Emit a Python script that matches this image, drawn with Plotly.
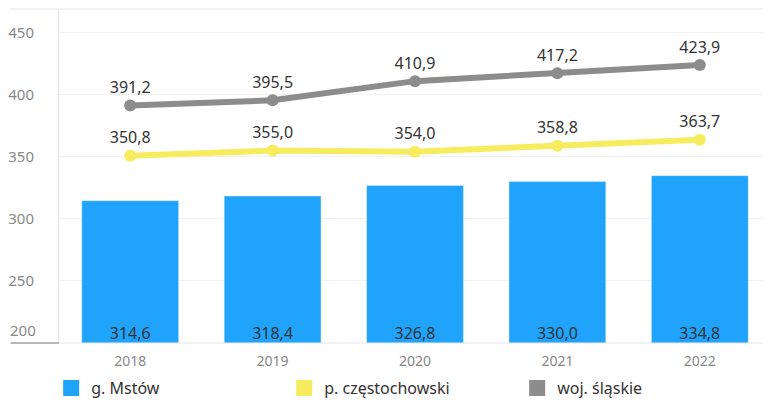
import plotly.graph_objects as go

lata = ['2018', '2019', '2020', '2021', '2022']
mstow = [314.6, 318.4, 326.8, 330.0, 334.8]
powiat = [350.8, 355.0, 354.0, 358.8, 363.7]
wojewodztwo = [391.2, 395.5, 410.9, 417.2, 423.9]
ticki_y = [200, 250, 300, 350, 400, 450]

kolory = {'g. Mstów': '#1FA3FB', 'p. częstochowski': '#F6EC5E', 'woj. śląskie': '#8C8C8C'}
czcionka = 'Noto Sans'
zakres_y = [200, 469]

fig = go.Figure()

fig.add_trace(go.Bar(
	x=lata, y=mstow, marker_color=kolory['g. Mstów'], showlegend=False, hoverinfo='skip'
))

# bar labels sit at the bottom of the visible axis range
fig.add_trace(go.Scatter(
	x=lata, y=[zakres_y[0]] * len(lata), mode='text', showlegend=False,
	text=[f'{v:.1f}'.replace('.', ',') for v in mstow], textposition='top center',
	textfont=dict(size=16, color='#333333', family=czcionka), hoverinfo='skip', cliponaxis=False
))

for nazwa, wartosci in [('p. częstochowski', powiat), ('woj. śląskie', wojewodztwo)]:
	fig.add_trace(go.Scatter(
		x=lata, y=wartosci, mode='lines+markers+text', showlegend=False,
		line=dict(color=kolory[nazwa], width=6), marker=dict(size=12, color=kolory[nazwa]),
		texttemplate='%{y:.1f}', textposition='top center',
		textfont=dict(size=16, color='#333333', family=czcionka), hoverinfo='skip'
	))

# legend entries (square symbols)
for nazwa in kolory:
	fig.add_trace(go.Scatter(
		x=[None], y=[None], mode='markers', name=nazwa,
		marker=dict(symbol='square', size=18, color=kolory[nazwa])
	))

# top border line and bottom axis line extending left
fig.add_shape(type='line', xref='paper', yref='paper', x0=-0.07, x1=1, y0=1, y1=1,
	line=dict(color='#E6E6E6', width=1))
fig.add_shape(type='line', xref='paper', yref='paper', x0=0, x1=1, y0=0, y1=0,
	line=dict(color='#E6E6E6', width=1))
fig.add_shape(type='line', xref='paper', yref='paper', x0=-0.068, x1=0, y0=0, y1=0,
	line=dict(color='#B8B8B8', width=2))

# lowest tick label is lifted above the axis line
fig.add_annotation(xref='paper', yref='y', x=0, y=ticki_y[0], text=str(ticki_y[0]),
	showarrow=False, xanchor='right', yanchor='bottom', xshift=-21, yshift=1,
	font=dict(size=15, color='#888888', family=czcionka))

# the page body adds an 8px margin, so the figure is 8px smaller
fig.update_layout(
	width=763, height=400,
	margin=dict(l=49, r=0, t=1, b=65),
	paper_bgcolor='white', plot_bgcolor='white',
	separators=', ',
	barmode='overlay', bargap=0.32,
	font=dict(family=czcionka, color='#888888'),
	showlegend=True,
	legend=dict(orientation='h', x=-0.011, xanchor='left', y=-0.186, yanchor='bottom',
		entrywidth=188, font=dict(size=16, color='#333333', family=czcionka),
		itemwidth=30, tracegroupgap=0),
	xaxis=dict(showgrid=False, showline=False, ticks='', tickfont=dict(size=14, color='#888888'),
		ticklabelstandoff=8),
	yaxis=dict(range=zakres_y, tickvals=ticki_y,
		ticktext=[''] + [str(t) for t in ticki_y[1:]],
		showgrid=True, gridcolor='#F0F0F0', zeroline=False,
		showline=True, linecolor='#E3E3E3', linewidth=1,
		tickfont=dict(size=15, color='#888888'), ticklabelstandoff=21),
)

fig.write_html("out.html")
